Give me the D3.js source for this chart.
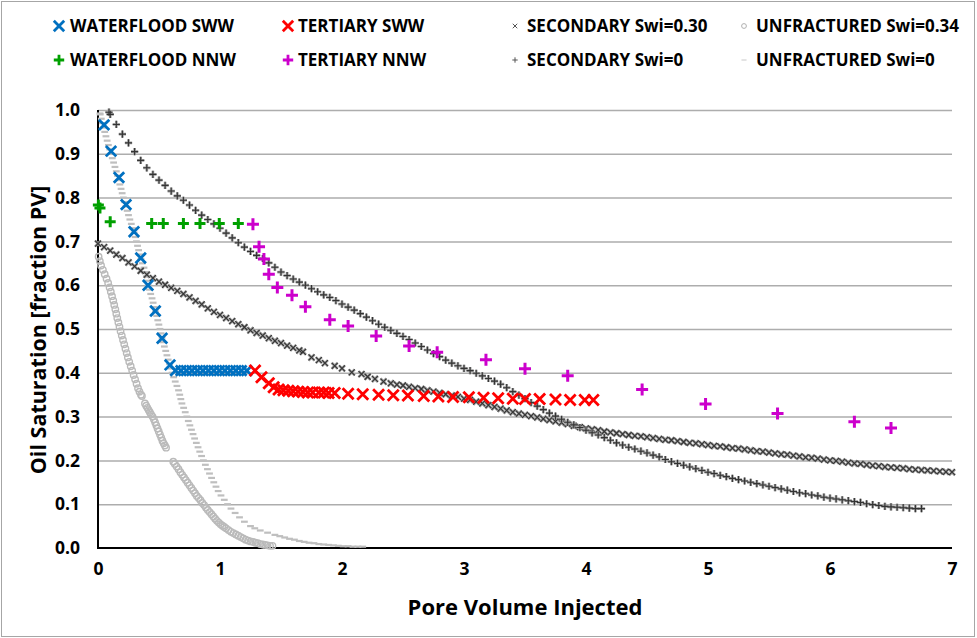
<!DOCTYPE html>
<html>
<head>
<meta charset="utf-8">
<script src="https://cdn.jsdelivr.net/npm/d3@7"></script>
<style>
  html, body { margin: 0; padding: 0; background: #fff; }
  svg { display: block; font-family: "Open Sans", "Liberation Sans", sans-serif; font-weight: bold; }
</style>
</head>
<body>
<svg id="chart" width="977" height="638"></svg>
<script>
// ---- Data: oil saturation [fraction PV] vs pore volume injected ----

const xTicks = [0, 1, 2, 3, 4, 5, 6, 7];
const yTicks = [0, 0.1, 0.2, 0.3, 0.4, 0.5, 0.6, 0.7, 0.8, 0.9, 1.0];

const waterfloodSWW = [
  [0.05,0.966],[0.107,0.906],[0.172,0.846],[0.23,0.784],[0.295,0.722],[0.35,0.662],
  [0.41,0.600],[0.47,0.541],[0.525,0.479],[0.59,0.418],
  [0.635,0.405],[0.68,0.405],[0.725,0.405],[0.77,0.405],[0.815,0.405],[0.86,0.405],
  [0.905,0.405],[0.95,0.405],[0.995,0.405],[1.04,0.405],[1.085,0.405],[1.13,0.405],
  [1.175,0.405],[1.22,0.405]
];

const tertiarySWW = [
  [1.287,0.405],[1.34,0.390],[1.40,0.376],[1.44,0.367],[1.48,0.362],[1.52,0.360],
  [1.56,0.359],[1.60,0.358],[1.64,0.357],[1.68,0.356],[1.72,0.355],[1.76,0.355],
  [1.81,0.355],[1.85,0.355],[1.89,0.354],[1.94,0.354],[2.05,0.352],[2.17,0.351],
  [2.30,0.350],[2.42,0.349],[2.54,0.348],[2.67,0.347],[2.79,0.346],[2.91,0.345],
  [3.04,0.344],[3.16,0.343],[3.28,0.342],[3.40,0.341],[3.50,0.340],[3.62,0.340],
  [3.75,0.339],[3.87,0.338],[3.99,0.338],[4.06,0.338]
];

const waterfloodNNW = [
  [0.003,0.783],[0.016,0.776],[0.10,0.745],[0.44,0.741],[0.535,0.741],[0.70,0.741],
  [0.836,0.741],[0.994,0.741],[1.15,0.741]
];

const tertiaryNNW = [
  [1.27,0.739],[1.32,0.688],[1.36,0.660],[1.40,0.625],[1.47,0.595],[1.59,0.577],
  [1.70,0.551],[1.90,0.521],[2.05,0.507],[2.28,0.484],[2.55,0.461],[2.78,0.447],
  [3.18,0.430],[3.50,0.409],[3.85,0.393],[4.46,0.362],[4.98,0.329],[5.57,0.307],
  [6.20,0.288],[6.50,0.274]
];

const secondarySwi030 = [
  [0.00,0.695],[0.05,0.687],[0.10,0.679],[0.15,0.670],[0.20,0.662],[0.25,0.652],
  [0.30,0.643],[0.35,0.633],[0.40,0.624],[0.45,0.616],[0.50,0.608],[0.55,0.601],
  [0.60,0.594],[0.65,0.587],[0.70,0.580],[0.75,0.572],[0.80,0.564],[0.85,0.556],
  [0.90,0.547],[0.95,0.539],[1.00,0.532],[1.05,0.525],[1.10,0.518],[1.15,0.511],
  [1.20,0.504],[1.25,0.497],[1.30,0.491],[1.35,0.485],[1.40,0.479],[1.45,0.473],
  [1.50,0.468],[1.55,0.462],[1.60,0.457],[1.65,0.451],[1.68,0.448],
  [1.75,0.435],[1.81,0.429],[1.86,0.422],[1.94,0.416],[2.00,0.410],[2.08,0.401],
  [2.16,0.397],[2.21,0.391],[2.27,0.386],[2.34,0.380],
  [2.40,0.376],[2.45,0.373],[2.50,0.371],[2.55,0.368],[2.60,0.365],[2.65,0.363],
  [2.70,0.360],[2.75,0.357],[2.80,0.354],[2.85,0.351],[2.90,0.348],[2.95,0.345],
  [3.00,0.341],[3.05,0.338],[3.10,0.334],[3.15,0.330],[3.20,0.326],[3.25,0.322],
  [3.30,0.318],[3.35,0.314],[3.40,0.310],[3.45,0.307],[3.50,0.304],[3.55,0.301],
  [3.60,0.298],[3.65,0.295],[3.70,0.292],[3.75,0.289],[3.80,0.286],[3.85,0.283],
  [3.90,0.279],[3.95,0.276],[4.00,0.273],[4.05,0.271],[4.10,0.269],[4.15,0.266],
  [4.20,0.264],[4.25,0.262],[4.30,0.260],[4.35,0.258],[4.40,0.256],[4.45,0.255],
  [4.50,0.253],[4.55,0.251],[4.60,0.249],[4.65,0.247],[4.70,0.246],[4.75,0.244],
  [4.80,0.242],[4.85,0.240],[4.90,0.239],[4.95,0.237],[5.00,0.235],[5.05,0.233],
  [5.10,0.232],[5.15,0.230],[5.20,0.228],[5.25,0.227],[5.30,0.225],[5.35,0.223],
  [5.40,0.221],[5.45,0.220],[5.50,0.218],[5.55,0.216],[5.60,0.214],[5.65,0.213],
  [5.70,0.211],[5.75,0.209],[5.80,0.207],[5.85,0.206],[5.90,0.204],[5.95,0.202],
  [6.00,0.200],[6.05,0.199],[6.10,0.197],[6.15,0.195],[6.20,0.193],[6.25,0.192],
  [6.30,0.190],[6.35,0.188],[6.40,0.187],[6.45,0.185],[6.50,0.184],[6.55,0.183],
  [6.60,0.182],[6.65,0.180],[6.70,0.179],[6.75,0.178],[6.80,0.177],[6.85,0.176],
  [6.90,0.175],[6.95,0.174],[7.00,0.173]
];

const secondarySwi0 = [
  [0.09,0.995],[0.10,0.990],[0.15,0.967],[0.20,0.945],[0.25,0.925],[0.30,0.905],
  [0.35,0.885],[0.40,0.868],[0.45,0.853],[0.50,0.840],[0.55,0.828],[0.60,0.815],
  [0.65,0.804],[0.70,0.794],[0.75,0.783],[0.80,0.771],[0.85,0.760],[0.90,0.750],
  [0.95,0.740],[1.00,0.730],[1.05,0.719],[1.10,0.708],[1.15,0.697],[1.20,0.687],
  [1.25,0.677],[1.30,0.668],[1.35,0.661],[1.40,0.651],[1.45,0.641],[1.50,0.630],
  [1.55,0.622],[1.60,0.614],[1.65,0.607],[1.70,0.600],[1.75,0.592],[1.80,0.585],
  [1.85,0.578],[1.90,0.572],[1.95,0.565],[2.00,0.557],[2.05,0.550],[2.10,0.543],
  [2.15,0.535],[2.20,0.527],[2.25,0.519],[2.30,0.511],[2.35,0.504],[2.40,0.497],
  [2.45,0.490],[2.50,0.483],[2.55,0.476],[2.60,0.468],[2.65,0.460],[2.70,0.452],
  [2.75,0.444],[2.80,0.437],[2.85,0.429],[2.90,0.422],[2.95,0.416],[3.00,0.410],
  [3.05,0.405],[3.10,0.399],[3.15,0.393],[3.20,0.387],[3.25,0.381],[3.30,0.374],
  [3.35,0.366],[3.40,0.357],[3.45,0.349],[3.50,0.341],[3.55,0.332],[3.60,0.324],
  [3.65,0.316],[3.70,0.308],[3.75,0.301],[3.80,0.294],[3.85,0.287],[3.90,0.281],
  [3.95,0.275],[4.00,0.269],[4.05,0.263],[4.10,0.258],[4.15,0.252],[4.20,0.246],
  [4.25,0.240],[4.30,0.235],[4.35,0.230],[4.40,0.226],[4.45,0.221],[4.50,0.217],
  [4.55,0.212],[4.60,0.208],[4.65,0.202],[4.70,0.197],[4.75,0.193],[4.80,0.189],
  [4.85,0.185],[4.90,0.181],[4.95,0.177],[5.00,0.173],[5.05,0.170],[5.10,0.166],
  [5.15,0.163],[5.20,0.159],[5.25,0.156],[5.30,0.153],[5.35,0.150],[5.40,0.147],
  [5.45,0.144],[5.50,0.141],[5.55,0.138],[5.60,0.135],[5.65,0.132],[5.70,0.129],
  [5.75,0.126],[5.80,0.124],[5.85,0.121],[5.90,0.119],[5.95,0.116],[6.00,0.114],
  [6.05,0.112],[6.10,0.110],[6.15,0.108],[6.20,0.106],[6.25,0.104],[6.30,0.101],
  [6.35,0.099],[6.40,0.097],[6.45,0.095],[6.50,0.094],[6.55,0.093],[6.60,0.092],
  [6.65,0.091],[6.70,0.090],[6.75,0.090]
];

const unfracturedSwi034 = [
  // first run
  [0.005,0.665],[0.015,0.655],[0.025,0.645],[0.04,0.635],[0.055,0.625],[0.07,0.615],
  [0.083,0.605],[0.095,0.595],[0.105,0.585],[0.115,0.575],[0.125,0.565],[0.133,0.555],
  [0.142,0.545],[0.15,0.535],[0.158,0.525],[0.167,0.515],[0.176,0.505],[0.185,0.495],
  [0.195,0.485],[0.205,0.475],[0.215,0.465],[0.225,0.455],[0.235,0.445],[0.245,0.435],
  [0.256,0.425],[0.268,0.415],[0.28,0.405],[0.292,0.395],[0.304,0.385],[0.316,0.375],
  [0.328,0.365],[0.34,0.357],[0.352,0.350],[0.36,0.347],
  // second run
  [0.385,0.330],[0.395,0.325],[0.405,0.320],[0.415,0.315],[0.425,0.310],[0.435,0.305],
  [0.447,0.300],[0.458,0.294],[0.468,0.287],[0.478,0.280],[0.488,0.273],[0.498,0.266],
  [0.508,0.259],[0.518,0.252],[0.528,0.245],[0.538,0.239],[0.548,0.234],[0.558,0.229],
  // third run
  [0.617,0.197],[0.63,0.192],[0.645,0.186],[0.66,0.180],[0.675,0.173],[0.69,0.167],
  [0.705,0.161],[0.72,0.155],[0.735,0.149],[0.75,0.143],[0.765,0.137],[0.78,0.131],
  [0.795,0.125],[0.81,0.119],[0.825,0.114],[0.84,0.109],[0.855,0.103],[0.87,0.098],
  [0.885,0.092],[0.90,0.087],[0.915,0.082],[0.93,0.077],[0.945,0.072],[0.96,0.067],
  [0.975,0.062],[0.99,0.058],[1.005,0.054],[1.02,0.051],[1.035,0.048],[1.05,0.045],
  [1.07,0.041],[1.09,0.037],[1.11,0.034],[1.13,0.031],[1.15,0.028],[1.17,0.025],
  [1.19,0.022],[1.21,0.019],[1.23,0.017],[1.25,0.015],[1.27,0.014],[1.29,0.012],
  [1.31,0.011],[1.33,0.009],[1.35,0.008],[1.37,0.007],[1.39,0.006],[1.41,0.005],
  [1.43,0.005]
];

const unfracturedSwi0 = [
  [0.016,0.992],[0.018,0.99],[0.027,0.98],[0.036,0.97],[0.046,0.96],[0.055,0.95],
  [0.065,0.94],[0.075,0.93],[0.085,0.92],[0.096,0.91],[0.107,0.90],[0.117,0.89],
  [0.128,0.88],[0.139,0.87],[0.150,0.86],[0.160,0.85],[0.170,0.84],[0.179,0.83],
  [0.189,0.82],[0.198,0.81],[0.208,0.80],[0.218,0.79],[0.228,0.78],[0.239,0.77],
  [0.250,0.76],[0.261,0.75],[0.273,0.74],[0.285,0.73],[0.296,0.72],[0.305,0.71],
  [0.315,0.70],[0.324,0.69],[0.333,0.68],[0.342,0.67],[0.352,0.66],[0.364,0.65],
  [0.377,0.64],[0.388,0.63],[0.396,0.62],[0.403,0.61],[0.411,0.60],[0.421,0.59],
  [0.432,0.58],[0.443,0.57],[0.452,0.56],[0.461,0.55],[0.471,0.54],[0.481,0.53],
  [0.490,0.52],[0.499,0.51],[0.508,0.50],[0.517,0.49],[0.525,0.48],[0.534,0.47],
  [0.544,0.46],[0.555,0.45],[0.565,0.44],[0.575,0.43],[0.586,0.42],[0.596,0.41],
  [0.607,0.40],[0.620,0.39],[0.633,0.38],[0.647,0.37],[0.660,0.36],[0.670,0.35],
  [0.679,0.34],[0.688,0.33],[0.702,0.32],[0.715,0.31],[0.728,0.30],[0.740,0.29],
  [0.753,0.28],[0.766,0.27],[0.779,0.26],[0.792,0.25],[0.806,0.24],[0.820,0.23],
  [0.834,0.22],[0.849,0.21],[0.864,0.20],[0.880,0.19],[0.897,0.18],[0.914,0.17],
  [0.931,0.16],[0.949,0.15],[0.967,0.14],[0.985,0.13],[1.008,0.12],[1.035,0.11],
  [1.062,0.10],[1.090,0.09],[1.124,0.08],[1.160,0.07],[1.200,0.06],[1.250,0.05],
  [1.285,0.045],[1.33,0.04],[1.39,0.035],[1.45,0.03],[1.49,0.027],[1.53,0.024],
  [1.57,0.021],[1.61,0.019],[1.65,0.016],[1.69,0.014],[1.73,0.012],[1.77,0.011],
  [1.81,0.009],[1.85,0.008],[1.89,0.007],[1.93,0.006],[1.97,0.005],[2.01,0.004],
  [2.05,0.004],[2.09,0.003],[2.13,0.003],[2.17,0.003]
];

// ---- Series styling (halo = softer stroke drawn beneath the marker) ----
const series = [
  { name: "UNFRACTURED Swi=0",    data: unfracturedSwi0,   shape: "dash",   size: 3.4, color: "#bfbfbf", width: 2.2, key: "#c8c8c8" },
  { name: "UNFRACTURED Swi=0.34", data: unfracturedSwi034, shape: "circle", size: 3.2, color: "#bababa", width: 1.4, key: "#b0b0b0" },
  { name: "SECONDARY Swi=0.30",   data: secondarySwi030,   shape: "x",      size: 3.0, color: "#333333", width: 1.1, halo: "#a0a0a0", key: "#555555" },
  { name: "SECONDARY Swi=0",      data: secondarySwi0,     shape: "plus",   size: 3.6, color: "#333333", width: 1.1, halo: "#a0a0a0", key: "#555555" },
  { name: "WATERFLOOD SWW",       data: waterfloodSWW,     shape: "x",      size: 5.2, color: "#0070c0", width: 2.8 },
  { name: "WATERFLOOD NNW",       data: waterfloodNNW,     shape: "plus",   size: 5.5, color: "#00a000", width: 3 },
  { name: "TERTIARY SWW",         data: tertiarySWW,       shape: "x",      size: 5.5, color: "#ff0000", width: 2.8 },
  { name: "TERTIARY NNW",         data: tertiaryNNW,       shape: "plus",   size: 6,   color: "#cc00cc", width: 3 }
];

function markerPath(shape, s) {
  switch (shape) {
    case "x":      return `M${-s},${-s}L${s},${s}M${-s},${s}L${s},${-s}`;
    case "plus":   return `M${-s},0L${s},0M0,${-s}L0,${s}`;
    case "dash":   return `M${-s},0L${s},0`;
    case "circle": return `M${s},0A${s},${s} 0 1,1 ${-s},0A${s},${s} 0 1,1 ${s},0`;
  }
}

// ---- Layout ----
const svg = d3.select("#chart");
const W = 977, H = 638;
const plot = { left: 98, right: 952, top: 110, bottom: 548 };
const FONT = "'Open Sans', 'Liberation Sans', sans-serif";

const x = d3.scaleLinear().domain([0, 7]).range([plot.left, plot.right]);
const y = d3.scaleLinear().domain([0, 1]).range([plot.bottom, plot.top]);

// outer frame
svg.append("rect")
  .attr("x", 1.5).attr("y", 1.5).attr("width", W - 4).attr("height", H - 3)
  .attr("fill", "#fff").attr("stroke", "#a6a6a6").attr("stroke-width", 1);

// horizontal gridlines
svg.append("g")
  .attr("transform", `translate(${plot.left},0)`)
  .call(d3.axisLeft(y).tickValues(yTicks.slice(1)).tickSize(-(plot.right - plot.left)).tickFormat(""))
  .call(g => g.select(".domain").remove())
  .call(g => g.selectAll("line").attr("stroke", "#adadad").attr("stroke-width", 1.5));

// y tick labels
svg.append("g")
  .attr("transform", `translate(${plot.left},0)`)
  .call(d3.axisLeft(y).tickValues(yTicks).tickSize(0).tickPadding(18).tickFormat(d3.format(".1f")))
  .call(g => g.select(".domain").remove())
  .call(g => g.selectAll("text").attr("font-size", 17.5).attr("font-weight", "bold")
    .attr("font-family", FONT).attr("fill", "#000"));

// x tick labels
svg.append("g")
  .attr("transform", `translate(0,${plot.bottom})`)
  .call(d3.axisBottom(x).tickValues(xTicks).tickSize(0).tickPadding(15).tickFormat(d3.format("d")))
  .call(g => g.select(".domain").remove())
  .call(g => g.selectAll("text").attr("font-size", 17.5).attr("font-weight", "bold")
    .attr("font-family", FONT).attr("fill", "#000"));

// axis lines
svg.append("line")
  .attr("x1", plot.left).attr("x2", plot.left).attr("y1", plot.top).attr("y2", plot.bottom + 1)
  .attr("stroke", "#000").attr("stroke-width", 2);
svg.append("line")
  .attr("x1", plot.left - 1).attr("x2", plot.right).attr("y1", plot.bottom).attr("y2", plot.bottom)
  .attr("stroke", "#000").attr("stroke-width", 2.2);

// series markers
const marks = svg.append("g");
series.forEach(s => {
  const g = marks.append("g");
  if (s.halo) {
    g.append("g").selectAll("path")
      .data(s.data)
      .join("path")
      .attr("transform", d => `translate(${x(d[0])},${y(d[1])})`)
      .attr("d", markerPath(s.shape, s.size))
      .attr("fill", "none")
      .attr("stroke", s.halo)
      .attr("stroke-width", s.width + 1.6);
  }
  g.append("g").selectAll("path")
    .data(s.data)
    .join("path")
    .attr("transform", d => `translate(${x(d[0])},${y(d[1])})`)
    .attr("d", markerPath(s.shape, s.size))
    .attr("fill", "none")
    .attr("stroke", s.color)
    .attr("stroke-width", s.width);
});

// axis titles
svg.append("text")
  .attr("x", 525).attr("y", 615)
  .attr("text-anchor", "middle")
  .attr("font-size", 22).attr("fill", "#000")
  .text("Pore Volume Injected");

svg.append("text")
  .attr("transform", "translate(46,330) rotate(-90)")
  .attr("text-anchor", "middle")
  .attr("font-size", 21.5).attr("fill", "#000")
  .text("Oil Saturation [fraction PV]");

// legend
const legendItems = [
  { s: series[4], col: 0, row: 0 },
  { s: series[6], col: 1, row: 0 },
  { s: series[2], col: 2, row: 0 },
  { s: series[1], col: 3, row: 0 },
  { s: series[5], col: 0, row: 1 },
  { s: series[7], col: 1, row: 1 },
  { s: series[3], col: 2, row: 1 },
  { s: series[0], col: 3, row: 1 }
];
const colMarkerX = [59, 288, 515, 744];
const colTextX = [70, 298, 527, 756];
const rowY = [26, 60];

const legend = svg.append("g");
legendItems.forEach(it => {
  const s = it.s;
  const big = s.size > 4;
  legend.append("path")
    .attr("transform", `translate(${colMarkerX[it.col]},${rowY[it.row]})`)
    .attr("d", markerPath(s.shape, big ? Math.min(s.size, 5.2) : s.size * 0.75))
    .attr("fill", "none").attr("stroke", big ? s.color : s.key)
    .attr("stroke-width", big ? 2.8 : 1);
  legend.append("text")
    .attr("x", colTextX[it.col]).attr("y", rowY[it.row])
    .attr("dy", "0.36em")
    .attr("font-size", 17).attr("fill", "#000")
    .text(s.name);
});
</script>
</body>
</html>
